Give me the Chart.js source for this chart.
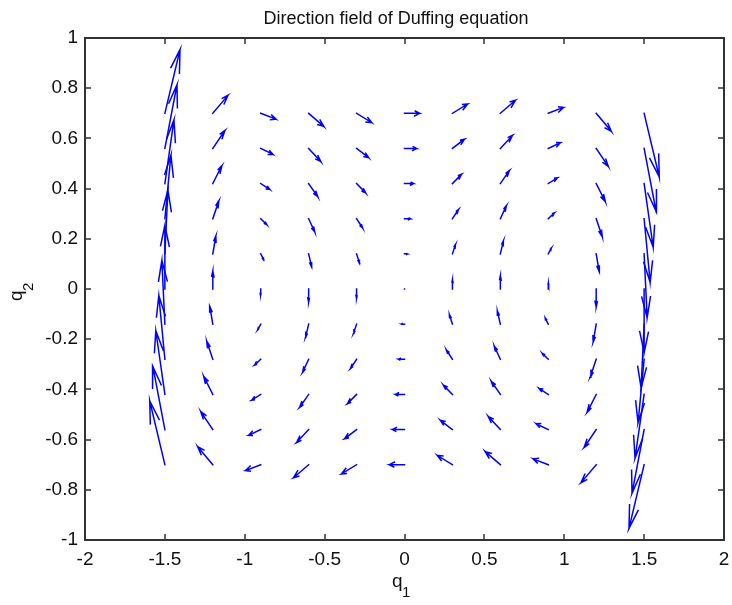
<!DOCTYPE html>
<html>
<head>
<meta charset="utf-8">
<title>Direction field of Duffing equation</title>
<script src="https://cdn.jsdelivr.net/npm/chart.js@4.4.1/dist/chart.umd.min.js"></script>
<style>
  html, body { margin: 0; padding: 0; background: #fff; }
  #wrap { width: 732px; height: 605px; }
</style>
</head>
<body>
<div id="wrap"><canvas id="field" width="732" height="605"></canvas></div>
<script>
// meshgrid of the quiver plot
var q1Grid = [-1.5, -1.2, -0.9, -0.6, -0.3, 0, 0.3, 0.6, 0.9, 1.2, 1.5];
var q2Grid = [-0.7, -0.56, -0.42, -0.28, -0.14, 0, 0.14, 0.28, 0.42, 0.56, 0.7];
// dq1/dt, one value per row (q2Grid)
var q1Dot = [-0.7, -0.56, -0.42, -0.28, -0.14, 0, 0.14, 0.28, 0.42, 0.56, 0.7];
// dq2/dt, one value per column (q1Grid)
var q2Dot = [1.875, 0.528, -0.171, -0.384, -0.273, 0, 0.273, 0.384, 0.171, -0.528, -1.875];

var xTicks = [-2, -1.5, -1, -0.5, 0, 0.5, 1, 1.5, 2];
var yTicks = [-1, -0.8, -0.6, -0.4, -0.2, 0, 0.2, 0.4, 0.6, 0.8, 1];

var ARROW = '#0000ff';
var AXIS = '#333333';
var FONT = "'Liberation Sans', Arial, Helvetica, sans-serif";

// same autoscale + arrow heads as matlab's quiver
function quiverDatasets() {
    var n = q1Grid.length, m = q2Grid.length;
    var delx = (Math.max.apply(null, q1Grid) - Math.min.apply(null, q1Grid)) / n;
    var dely = (Math.max.apply(null, q2Grid) - Math.min.apply(null, q2Grid)) / m;
    var del = delx * delx + dely * dely;
    var maxlen = 0;
    for (var i = 0; i < n; i++) {
        for (var j = 0; j < m; j++) {
            var l = Math.sqrt((q1Dot[j] * q1Dot[j] + q2Dot[i] * q2Dot[i]) / del);
            if (l > maxlen) maxlen = l;
        }
    }
    var s = 0.9 / maxlen;
    var alpha = 0.33, beta = 0.33, eps = 2.2e-16;
    var sets = [];
    for (var i = 0; i < n; i++) {
        for (var j = 0; j < m; j++) {
            var x = q1Grid[i], y = q2Grid[j];
            var u = q1Dot[j] * s, v = q2Dot[i] * s;
            var tip = {x: x + u, y: y + v};
            sets.push({
                data: [
                    {x: x, y: y},
                    tip,
                    {x: x + u - alpha * (u + beta * (v + eps)), y: y + v - alpha * (v - beta * (u + eps))},
                    tip,
                    {x: x + u - alpha * (u - beta * (v + eps)), y: y + v - alpha * (v + beta * (u + eps))}
                ],
                showLine: true,
                borderColor: ARROW,
                borderWidth: 1.5,
                borderCapStyle: 'square',
                pointRadius: 0,
                tension: 0,
                fill: false
            });
        }
    }
    return sets;
}

// box with inward ticks, title and axis labels
var matlabAxes = {
    id: 'matlabAxes',
    afterDraw: function(chart) {
        var ctx = chart.ctx, a = chart.chartArea;
        var xs = chart.scales.x, ys = chart.scales.y;
        var L = Math.round(a.left), R = Math.round(a.right);
        var T = Math.round(a.top), B = Math.round(a.bottom);
        ctx.save();
        ctx.strokeStyle = AXIS;
        ctx.lineWidth = 1.5;
        ctx.beginPath();
        xTicks.forEach(function(t) {
            var px = Math.round(xs.getPixelForValue(t));
            ctx.moveTo(px, B); ctx.lineTo(px, B - 6);
            ctx.moveTo(px, T); ctx.lineTo(px, T + 6);
        });
        yTicks.forEach(function(t) {
            var py = Math.round(ys.getPixelForValue(t));
            ctx.moveTo(L, py); ctx.lineTo(L + 6, py);
            ctx.moveTo(R, py); ctx.lineTo(R - 6, py);
        });
        ctx.stroke();
        ctx.lineWidth = 2;
        ctx.strokeRect(L, T, R - L, B - T);

        ctx.fillStyle = '#111';
        ctx.textBaseline = 'alphabetic';
        ctx.textAlign = 'center';
        ctx.font = '18px ' + FONT;
        ctx.fillText('Direction field of Duffing equation', 396, 24);

        // q_1
        ctx.textAlign = 'left';
        ctx.font = '19px ' + FONT;
        ctx.fillText('q', 392, 587);
        ctx.font = '15px ' + FONT;
        ctx.fillText('1', 402, 597);

        // q_2
        ctx.translate(22, 301);
        ctx.rotate(-Math.PI / 2);
        ctx.font = '19px ' + FONT;
        ctx.fillText('q', 0, 0);
        ctx.font = '15px ' + FONT;
        ctx.fillText('2', 10, 11);
        ctx.restore();
    }
};

window.addEventListener("load", function() {
    var ctx = document.getElementById("field").getContext("2d");
    var tickFont = {family: FONT, size: 19};
    new Chart(ctx, {
        type: 'scatter',
        data: {datasets: quiverDatasets()},
        options: {
            responsive: false,
            animation: false,
            layout: {padding: {left: 0, top: 38, right: 8, bottom: 0}},
            plugins: {
                legend: {display: false},
                tooltip: {enabled: false},
                title: {display: false}
            },
            scales: {
                x: {
                    type: 'linear',
                    min: -2,
                    max: 2,
                    afterBuildTicks: function(scale) {
                        scale.ticks = xTicks.map(function(v) { return {value: v}; });
                    },
                    afterFit: function(scale) {
                        scale.height = 65;
                        scale.paddingLeft = 0;
                        scale.paddingRight = 0;
                    },
                    grid: {display: false, drawTicks: false},
                    border: {display: false},
                    ticks: {
                        padding: 8,
                        autoSkip: false,
                        maxRotation: 0,
                        color: '#111',
                        font: tickFont,
                        callback: function(v) { return String(v); }
                    }
                },
                y: {
                    type: 'linear',
                    min: -1,
                    max: 1,
                    afterBuildTicks: function(scale) {
                        scale.ticks = yTicks.map(function(v) { return {value: v}; });
                    },
                    afterFit: function(scale) {
                        scale.width = 85;
                        scale.paddingTop = 0;
                        scale.paddingBottom = 0;
                    },
                    grid: {display: false, drawTicks: false},
                    border: {display: false},
                    ticks: {
                        padding: 7,
                        autoSkip: false,
                        color: '#111',
                        font: tickFont,
                        callback: function(v) { return String(v); }
                    }
                }
            }
        },
        plugins: [matlabAxes]
    });
});
</script>
</body>
</html>
